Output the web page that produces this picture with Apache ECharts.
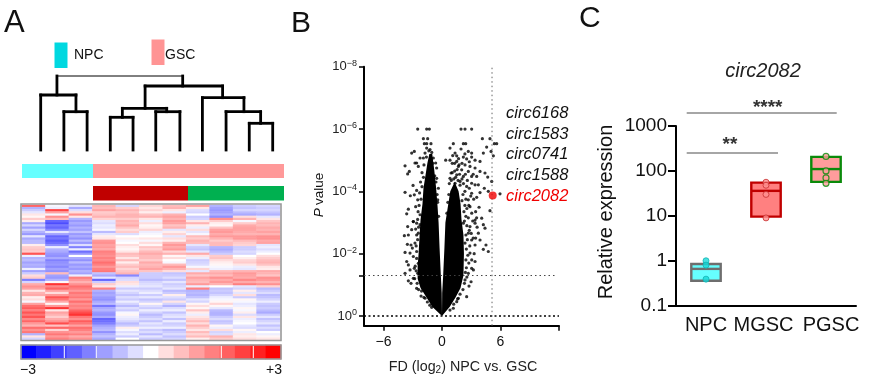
<!DOCTYPE html>
<html><head><meta charset="utf-8">
<style>html,body{margin:0;padding:0;background:#fff}#c{width:872px;height:383px;filter:blur(0.4px)}</style>
<script src="https://cdn.jsdelivr.net/npm/echarts@6/dist/echarts.min.js"></script>
</head><body><div id="c"></div>
<script>
// ---------- Panel A data ----------
const dendroThick = [[0.7,74,0.7,55],[6.12,74,6.12,64],[0,55,1.52,55],[0,55,0,0],[1.52,55,1.52,38.3],[1,38.3,2,38.3],[1,38.3,1,0],[2,38.3,2,0],
 [4.5,64,7.84,64],[4.5,64,4.5,41.7],[7.84,64,7.84,52.3],[3.52,41.7,5.43,41.7],[3.52,41.7,3.52,32.7],[3,32.7,3.98,32.7],[3,32.7,3,0],[3.98,32.7,3.98,0],
 [5.43,41.7,5.43,38.3],[4.96,38.3,6,38.3],[4.96,38.3,4.96,0],[6,38.3,6,0],[6.97,52.3,8.76,52.3],[6.97,52.3,6.97,0],[8.76,52.3,8.76,38.3],
 [7.99,38.3,9.48,38.3],[7.99,38.3,7.99,0],[9.48,38.3,9.48,26.7],[8.99,26.7,10,26.7],[8.99,26.7,8.99,0],[10,26.7,10,0]];
const dendroThin = [[0.7,74,6.12,74]];
const heatRows = [
[1.8,-0.1,-0.3,0.9,-0.5,0.5,0.8,1.1,-0.9,-0.6,-0.5],
[-0.9,-0.2,-1.0,0.8,0.6,0.3,0.9,0.3,-1.1,-0.7,-0.6],
[-0.6,2.2,-0.4,1.1,0.9,0.5,0.3,-0.4,-1.2,-0.5,-0.5],
[-0.3,1.1,0.4,0.6,0.7,0.2,-0.2,-0.5,-1.1,-0.8,-0.7],
[0.3,-0.1,1.3,0.7,0.9,0.7,0.9,0.0,-0.9,-1.0,-0.9],
[0.1,1.3,0.3,0.9,0.9,0.9,1.1,-0.6,-1.3,0.4,-0.3],
[0.6,0.8,-0.9,0.5,0.6,0.3,0.9,-0.5,1.3,0.9,0.3],
[0.2,-1.8,-1.2,-0.3,0.9,-0.2,1.2,0.3,0.6,-0.1,0.7],
[-1.0,-2.1,-1.0,-0.4,0.8,0.4,1.1,0.9,0.2,0.6,0.9],
[-0.5,-1.6,-1.2,-0.2,1.0,0.1,0.7,0.2,0.1,1.0,0.8],
[-1.1,-1.8,-0.9,-0.3,0.7,0.2,0.9,-0.2,0.7,1.1,1.0],
[-0.5,-1.4,-1.1,-0.1,0.4,0.5,-0.3,0.4,1.1,1.1,0.9],
[-0.9,-0.3,-0.7,-0.8,0.6,-0.2,0.2,-0.3,1.2,1.0,1.1],
[-1.2,-1.1,-1.2,-0.3,-0.4,-0.1,0.5,-0.1,1.0,0.9,0.9],
[-0.3,-1.8,-1.0,0.2,0.0,0.0,-0.3,0.8,1.2,1.2,1.3],
[-1.0,-1.6,-1.3,0.3,0.2,0.3,0.4,0.6,0.9,1.2,1.3],
[-0.8,-1.9,-0.8,1.2,-0.1,-0.1,0.2,0.9,0.6,0.8,1.0],
[-0.8,-1.7,-1.2,1.3,0.0,0.4,0.9,0.8,0.8,0.6,1.1],
[0.2,-1.3,-0.4,1.1,0.4,0.1,1.2,-0.3,0.8,0.5,-0.3],
[0.6,-0.2,-1.5,1.2,0.2,0.7,1.0,-0.6,-0.9,-0.6,-0.2],
[0.7,-0.9,-0.2,1.0,0.1,0.5,1.2,-0.7,-1.0,-0.6,-0.4],
[0.6,-1.0,-1.7,1.5,0.3,0.8,0.5,-0.3,-0.8,-0.4,-0.2],
[2.0,-1.2,-1.2,1.4,0.8,1.0,0.9,1.0,-0.6,-0.5,0.0],
[-0.2,-1.3,0.0,1.3,0.7,0.8,0.1,0.3,0.6,0.0,0.4],
[-0.9,-1.0,-1.0,1.5,0.3,0.8,0.4,-0.2,0.7,0.2,0.6],
[-0.8,-1.5,-1.3,1.4,0.8,0.6,0.0,-0.6,0.4,0.5,0.8],
[-1.1,-1.3,-0.8,1.7,0.2,1.0,-0.1,-0.5,0.2,0.6,0.9],
[-0.9,-1.2,-1.2,1.5,0.6,0.8,0.8,-0.4,0.1,0.3,0.7],
[-1.0,-1.4,-1.0,1.2,0.8,0.9,1.2,-0.1,-0.1,-0.2,0.3],
[-0.2,-1.1,-1.2,1.5,0.5,1.1,0.9,0.5,-0.2,-0.3,0.2],
[-1.1,-1.3,-0.9,1.6,0.7,0.7,0.4,-0.3,0.8,0.9,1.0],
[-0.6,0.8,-1.1,-0.7,0.9,-0.6,-0.7,1.0,1.0,1.2,0.9],
[0.4,-1.1,-0.2,-1.0,-1.4,-0.6,-0.6,0.7,0.8,1.1,0.7],
[0.6,-1.2,1.5,-0.3,-0.5,-0.6,-0.4,1.1,1.3,1.0,1.3],
[-1.5,-0.9,1.2,-1.8,-0.4,-0.8,-0.7,0.9,1.0,1.4,1.2],
[-0.5,0.1,0.9,-0.6,0.4,-0.5,-0.3,0.8,1.2,1.0,0.9],
[1.0,2.4,1.3,0.6,0.3,-0.4,-0.6,1.2,0.9,1.5,1.3],
[1.3,1.4,1.7,0.3,-0.2,-0.3,-0.5,-0.2,0.0,-0.3,0.5],
[1.1,1.8,1.5,1.5,-0.6,-0.6,-0.3,1.5,-0.7,-0.5,-0.8],
[0.3,1.1,1.2,-0.9,-0.3,-0.4,-0.8,-0.9,-0.6,0.2,-0.6],
[0.9,0.4,1.6,-1.1,-0.5,-0.2,-0.6,-0.8,-0.7,-0.3,-0.4],
[1.0,1.2,1.4,-1.0,-0.7,-0.6,0.2,-0.9,-0.5,0.4,-0.8],
[0.2,2.0,1.6,-1.2,-0.4,-0.3,-0.4,-0.7,-0.2,-0.6,-0.7],
[0.4,1.6,1.2,-1.3,-0.6,-0.7,-0.6,-0.3,-0.1,0.1,-0.5],
[-0.1,1.0,1.7,-1.0,-0.2,-0.5,0.3,-0.5,0.1,-0.1,-0.2],
[1.1,0.1,1.3,-0.8,-0.5,0.1,-0.5,0.1,0.5,-0.3,-0.6],
[1.7,1.2,1.5,-1.6,-0.8,-0.4,-0.9,0.4,0.1,-0.2,-0.7],
[1.9,2.4,1.4,-1.0,-0.4,-0.6,-0.4,0.1,-0.3,0.1,-0.6],
[1.5,0.3,1.8,-0.9,-0.6,-0.2,-0.2,0.7,-0.8,-0.1,-0.8],
[2.0,1.1,2.1,-1.2,-0.1,-0.5,-0.7,0.2,-0.9,0.2,-1.0],
[1.6,0.9,2.4,-1.3,0.1,-0.8,-0.4,-0.2,-0.9,-0.4,-0.6],
[2.0,0.6,1.6,-1.0,-0.2,-0.6,-0.3,0.3,-0.6,0.3,-0.3],
[1.4,1.0,1.3,-1.8,-0.3,-0.4,-0.7,0.5,-0.4,-0.2,-0.7],
[1.8,1.3,1.9,-1.7,-0.5,-0.7,-0.2,0.8,-0.7,-0.1,-0.5],
[1.2,2.1,1.6,-1.5,-0.8,-0.3,-0.6,0.4,-0.6,0.0,-0.3],
[0.9,0.7,1.1,-1.1,-0.6,-0.5,-0.5,0.9,0.1,-0.3,-0.7],
[1.7,1.8,1.7,-0.9,0.2,-0.2,-0.2,0.6,-0.2,-0.4,-0.4],
[1.3,0.5,1.5,-0.8,-0.1,-0.6,-0.8,0.3,0.4,0.1,-0.6],
[1.6,1.3,1.2,-1.3,-0.4,-0.4,-0.6,0.8,-0.5,-0.2,0.0],
[-0.9,1.6,1.5,-0.9,-0.2,-0.8,-0.4,0.5,-0.4,0.3,-0.2],
[0.3,1.2,1.0,-0.7,-0.6,-0.3,-0.7,0.8,0.9,0.2,0.1],
[-0.5,1.5,1.3,-1.0,0.0,-0.6,-0.5,0.2,0.6,0.4,0.3]];
const colorbarValues = [-3,-2.625,-2.25,-1.875,-1.5,-1.125,-0.75,-0.375,0,0.375,0.75,1.125,1.5,1.875,2.25,2.625,3];

// ---------- Panel B data (x = log2 FD, y = -log10 P) ----------
const volcanoLeftMass = [[0,0],[-1,0.3],[-1.6,0.6],[-2.2,0.9],[-2.5,1.2],[-2.5,1.6],[-2.4,2],[-2.3,2.6],[-2.2,3.1],[-2,3.6],[-1.9,4.1],[-1.7,4.5],[-1.5,4.9],[-1.3,5.2],[-1,5.2],[-0.8,4.7],[-0.6,4.1],[-0.45,3.5],[-0.35,3],[-0.25,2.2],[-0.12,1.3],[-0.03,0.74]];
const volcanoRightMass = [[0,0],[0.8,0.3],[1.4,0.6],[1.9,0.9],[2.2,1.3],[2.25,2],[2.2,2.6],[2,3.1],[1.9,3.6],[1.7,4],[1.3,4.3],[0.85,4],[0.55,3.4],[0.35,3],[0.25,2.2],[0.12,1.3],[0.02,0.74]];
const volcanoPoints = [[-2.49,6],[-1.57,6],[-1.3,6],[-1.91,5.69],[-1.47,5.69],[-1.81,5.53],[-1.57,5.53],[-1.13,5.53],[-1.57,5.39],[-3.11,5.23],[-2.84,5.28],[-1.23,5.34],[-1.74,5.23],[-2.6,4.91],[-2.25,5.07],[-2.77,4.91],[-3.79,4.82],[-3.35,4.64],[-3.52,4.56],[-2.43,4.8],[-1.91,5.07],[-0.89,5.07],[-0.65,4.91],[-0.55,4.75],[-0.55,4.42],[-2.97,4.19],[-2.6,4.03],[-3.79,3.97],[-3.25,3.86],[-2.84,3.89],[-2.49,3.73],[-3.45,3.43],[-3.62,3.28],[-2.7,3.51],[-2.94,3.03],[-0.37,4.1],[-0.44,3.73],
[1.95,6],[2.36,6],[3.04,6],[4.14,5.69],[4.92,5.69],[1.16,5.53],[2.19,5.53],[2.43,5.53],[5.37,5.53],[5.61,5.53],[0.82,5.39],[1.95,5.36],[2.7,5.28],[3.04,5.23],[1.34,5.23],[1.51,5.14],[4.58,5.42],[4.24,5.23],[5.03,5.28],[5.27,5.14],[0.38,5],[0.82,5],[1.51,4.96],[2.19,5.1],[2.53,5.04],[3.04,5.1],[3.39,5],[3.9,4.96],[1.68,4.8],[2.36,4.85],[2.87,4.8],[3.39,4.75],[3.9,4.64],[4.41,4.59],[2.02,4.69],[2.7,4.64],[0.93,4.59],[0.82,4.42],[1.51,4.53],[2.19,4.48],[3.04,4.48],[3.56,4.48],[4.69,4.46],[5.1,4.32],[3.73,4.21],[4.34,4.1],[3.39,4.21],[3.04,4.26],[1.34,4.26],[1.85,4.32],[2.53,4.16],[3.9,3.96],[4.75,4],[5.95,3.92],[3.56,3.81],[3.04,3.94],[4.92,3.38],[3.8,3.49],[3.45,3.35],[4.07,3.14],[3.39,3.08],[2.87,3.51],[2.7,3.73],
[-3.52,2.87],[-2.94,3.03],[-2.6,2.98],[-2.25,2.93],[-3.11,2.77],[-3.86,2.58],[-3.45,2.6],[-2.7,2.79],[-2.43,2.66],[-3.55,2.3],[-3.18,2.28],[-2.77,2.34],[-3.79,2.04],[-3.28,2.02],[-3.04,2.18],[-2.6,2.07],[-3.62,1.75],[-3.45,1.64],[-2.94,1.91],[-3.79,1.37],[-3.28,1.48],[-2.84,1.53],[-2.43,1.69],[-3.45,1.13],[-2.94,1.21],[-3.18,1.05],[-2.6,0.89],[-2.15,0.64],[-1.74,0.57],[-2.49,1.37],[-2.08,1.16],[-1.06,0.28],
[2.19,2.98],[2.87,2.87],[3.39,2.98],[4.24,2.93],[4.41,2.82],[3.73,2.66],[2.7,2.66],[3.04,2.44],[3.39,2.28],[3.9,2.44],[4.51,2.28],[4.24,2.14],[4.75,2.07],[2.36,2.34],[2.87,2.02],[3.39,1.75],[3.04,1.53],[2.7,1.37],[3.22,1.48],[2.36,1.16],[2.98,1.1],[2.77,0.96],[2.53,0.62],[1.68,0.57],[1.51,0.46],[1.16,0.25],[0.82,0.19],[1.85,1.27]];
const volcanoDensePoints = [[-1.6,5.1],[-1.35,5.3],[-1.05,5.25],[-1.85,4.85],[-2.05,4.6],[-1.9,4.45],[-2.2,4.3],[-2.05,4.15],[-2.3,3.95],[-2.15,3.75],[-2.35,3.55],[-2.45,3.35],[-2.25,3.25],[-2.5,3.1],[-2.4,2.85],[-2.6,2.6],[-2.5,2.45],[-2.65,2.25],[-2.6,1.85],[-2.75,1.6],[-2.65,1.45],[-2.8,1.2],[-2.55,1.05],[-2.4,0.85],[-2.1,0.8],[-1.85,0.6],[-1.5,0.45],[-1.25,0.35],[-0.75,4.5],[-0.62,4.3],[-0.5,3.9],[-0.45,3.65],[-0.35,3.2],[-1.15,5],[-0.95,4.9],[-1.3,4.75],
[0.95,4.35],[1.2,4.4],[1.4,4.45],[1.65,4.35],[1.85,4.2],[1.05,4.6],[1.3,4.65],[1.55,4.7],[1.8,4.55],[2.05,4.4],[2.2,4.25],[2.35,4],[2.15,3.9],[2.45,3.75],[2.05,3.7],[2.35,3.55],[2.55,3.45],[2.25,3.35],[2.45,3.2],[2.7,3.15],[2.3,3.05],[2.55,2.9],[2.8,2.75],[2.45,2.6],[2.6,2.45],[2.85,2.25],[2.5,2.15],[2.65,1.95],[2.45,1.8],[2.75,1.7],[2.5,1.55],[2.4,1.4],[2.55,1.25],[2.3,1.05],[2.15,0.85],[1.85,0.7],[1.6,0.55],[1.2,0.38],[0.75,4.25],[0.7,3.9],[0.6,3.65],[0.5,3.3],[1.05,4.9],[1.3,4.9],[1.75,4.85],[2.05,4.9],[2.4,4.55],[2.6,4.35],[2.8,4.1],[2.95,3.85],[2.75,3.55],[3.05,3.3],[3.15,3.05],[3,2.65],[3.2,2.5],[3.3,2],[3.05,1.8],[1.1,5.15],[1.7,5.05],[2.35,5.2],[2.8,4.95],[3.2,4.55],[3.25,3.75],[3.55,3.15],[3.6,2.85],[3.45,2.5]];
const highlightedCirc = [[5.2,3.87]];
const circNames = ["circ6168","circ1583","circ0741","circ1588"];
const highlightedName = "circ2082";
const pThreshold = 1.3, fdThreshold = 5.13;
const pTicks = [0,1.3,2,4,6,8], pLabelTicks = [0,2,4,6,8];
const fdTicks = [-6,0,6,12], fdLabelTicks = [-6,0,6];

// ---------- Panel C data ----------
const groups = ["NPC","MGSC","PGSC"];
const boxLow = [0.36,9.6,57];
const boxMedian = [0.66,36,110];
const boxHigh = [0.85,55,205];
const pointsNPC = [1.0,0.8,0.39];
const pointsMGSC = [56,48,30,9];
const pointsPGSC = [210,100,70,53];

const FONT = '"Liberation Sans", Arial, sans-serif';
const boxFill = ['#66ffff','#ff8080','#ff9c9c'];
const boxStroke = ['#6e6e6e','#c00000','#0a8a0a'];

function segRender(w){
  return function(p, api){
    const a = api.coord([api.value(0),api.value(1)]), b = api.coord([api.value(2),api.value(3)]);
    return {type:'line',shape:{x1:a[0],y1:a[1],x2:b[0],y2:b[1]},style:{stroke:'#000',lineWidth:w,lineCap:'square'}};
  };
}
function massRender(points){
  return function(p, api){
    if (p.dataIndex !== 0) return null;
    return {type:'polygon',shape:{points:points.map(q=>api.coord(q))},style:{fill:'#000'}};
  };
}
function sup(v){ return '{b|10}{s|'+(v===0?'0':'\u2212'+v)+'}'; }
function T(x,y,text,o){ return {type:'text',x:x,y:y,z:50,style:Object.assign({text:text,fill:'#111',font:'13px '+FONT,verticalAlign:'middle'},o||{})}; }
function R(x,y,w,h,fill){ return {type:'rect',z:5,shape:{x:x,y:y,width:w,height:h},style:{fill:fill}}; }
function L(x1,y1,x2,y2,c,w){ return {type:'line',z:6,shape:{x1,y1,x2,y2},style:{stroke:c,lineWidth:w}}; }

const heatData = [];
heatRows.forEach((r,i)=>r.forEach((v,j)=>heatData.push([j,i,v])));

const chart = echarts.init(document.getElementById('c'),null,{renderer:'canvas'});
const axisLbl = {fontFamily:FONT,color:'#111'};
chart.setOption({
  animation:false,
  backgroundColor:'#fff',
  grid:[
    {left:40.7,top:75,width:232,height:75},
    {left:22,top:205,width:258,height:135},
    {left:21,top:345,width:260,height:14},
    {left:364,top:66.7,width:195,height:259},
    {left:676,top:126,width:180,height:179.7}
  ],
  xAxis:[
    {gridIndex:0,type:'value',min:0,max:10,show:false},
    {gridIndex:1,type:'category',data:heatRows[0].map((_,i)=>i),show:false},
    {gridIndex:2,type:'category',data:colorbarValues.map(String),show:false},
    {gridIndex:3,type:'value',min:-8,max:12,splitLine:{show:false},
      axisLine:{show:true,onZero:false,lineStyle:{color:'#000',width:2}},
      axisTick:{show:true,length:5,customValues:fdTicks,lineStyle:{color:'#000',width:1.5}},
      axisLabel:Object.assign({},axisLbl,{fontSize:14,margin:9,customValues:fdLabelTicks,formatter:v=>String(v).replace('-','\u2212')})},
    {gridIndex:4,type:'category',data:groups,
      axisLine:{lineStyle:{color:'#000',width:2}},
      axisTick:{alignWithLabel:true,length:6,lineStyle:{color:'#000',width:2}},
      axisLabel:Object.assign({},axisLbl,{fontSize:20,margin:10,interval:0,
        formatter:v=>v==='MGSC'?'{m|'+v+'}':v==='PGSC'?'{p|'+v+'}':'{n|'+v+'}',
        rich:{n:{fontSize:20,fontFamily:FONT,color:'#111'},m:{fontSize:20,fontFamily:FONT,color:'#111',padding:[0,5,0,0]},p:{fontSize:20,fontFamily:FONT,color:'#111',padding:[0,0,0,10]}}})}
  ],
  yAxis:[
    {gridIndex:0,type:'value',min:0,max:75,show:false},
    {gridIndex:1,type:'category',inverse:true,data:heatRows.map((_,i)=>i),show:false},
    {gridIndex:2,type:'category',data:['bar'],show:false},
    {gridIndex:3,type:'value',min:-0.31,max:8,splitLine:{show:false},
      axisLine:{show:true,onZero:false,lineStyle:{color:'#000',width:2}},
      axisTick:{show:true,length:5,customValues:pTicks,lineStyle:{color:'#000',width:1.5}},
      axisLabel:Object.assign({},axisLbl,{customValues:pLabelTicks,margin:7,formatter:sup,
        rich:{b:{fontSize:13,fontFamily:FONT,color:'#222'},s:{fontSize:9,fontFamily:FONT,color:'#222',padding:[0,0,7,0]}}})},
    {gridIndex:4,type:'log',logBase:10,min:0.1,max:1000,splitLine:{show:false},
      axisLine:{show:true,lineStyle:{color:'#000',width:2}},
      axisTick:{show:true,length:8,lineStyle:{color:'#000',width:2}},
      minorTick:{show:false},
      axisLabel:Object.assign({},axisLbl,{fontSize:19,margin:9,formatter:v=>String(v)})}
  ],
  visualMap:{show:false,type:'continuous',min:-3,max:3,seriesIndex:[2,3],inRange:{color:['#0000ff','#ffffff','#ff0000']}},
  series:[
    {type:'custom',xAxisIndex:0,yAxisIndex:0,coordinateSystem:'cartesian2d',clip:false,renderItem:segRender(2.8),data:dendroThick,encode:{x:[0,2],y:[1,3]},silent:true},
    {type:'custom',xAxisIndex:0,yAxisIndex:0,coordinateSystem:'cartesian2d',clip:false,renderItem:segRender(1),data:dendroThin,encode:{x:[0,2],y:[1,3]},silent:true},
    {type:'heatmap',xAxisIndex:1,yAxisIndex:1,data:heatData,progressive:0,silent:true},
    {type:'heatmap',xAxisIndex:2,yAxisIndex:2,data:colorbarValues.map((v,i)=>[i,0,v]),silent:true},
    {type:'custom',xAxisIndex:3,yAxisIndex:3,coordinateSystem:'cartesian2d',renderItem:massRender(volcanoLeftMass),data:volcanoLeftMass,silent:true},
    {type:'custom',xAxisIndex:3,yAxisIndex:3,coordinateSystem:'cartesian2d',renderItem:massRender(volcanoRightMass),data:volcanoRightMass,silent:true},
    {type:'scatter',xAxisIndex:3,yAxisIndex:3,data:volcanoPoints,symbolSize:3.2,itemStyle:{color:'#000'},silent:true},
    {type:'scatter',xAxisIndex:3,yAxisIndex:3,data:volcanoDensePoints,symbolSize:3.2,itemStyle:{color:'#000'},silent:true},
    {type:'line',xAxisIndex:3,yAxisIndex:3,data:[[-8,pThreshold],[11.7,pThreshold]],symbol:'none',lineStyle:{color:'#444',width:1,type:[1.5,3]},silent:true},
    {type:'line',xAxisIndex:3,yAxisIndex:3,data:[[-8,0],[12,0]],symbol:'none',lineStyle:{color:'#000',width:1.6,type:[2,2.5]},silent:true},
    {type:'line',xAxisIndex:3,yAxisIndex:3,data:[[fdThreshold,-0.31],[fdThreshold,8]],symbol:'none',lineStyle:{color:'#666',width:1,type:[1.5,3]},silent:true},
    {type:'scatter',xAxisIndex:3,yAxisIndex:3,data:highlightedCirc,symbolSize:8,itemStyle:{color:'#f00000'},z:5,silent:true},
    {type:'custom',xAxisIndex:4,yAxisIndex:4,coordinateSystem:'cartesian2d',silent:true,
      data:groups.map((g,i)=>[i,boxLow[i],boxMedian[i],boxHigh[i]]),encode:{x:0,y:[1,2,3]},
      renderItem:function(p,api){
        const i=api.value(0), hw=api.size([1,0])[0]*0.245;
        const lo=api.coord([i,api.value(1)]), me=api.coord([i,api.value(2)]), hi=api.coord([i,api.value(3)]);
        const s={stroke:boxStroke[i],lineWidth:2.4};
        return {type:'group',children:[
          {type:'rect',shape:{x:lo[0]-hw,y:hi[1],width:2*hw,height:lo[1]-hi[1]},style:Object.assign({fill:boxFill[i]},s)},
          {type:'line',shape:{x1:lo[0]-hw,y1:me[1],x2:lo[0]+hw,y2:me[1]},style:s}
        ]};
      }},
    {type:'scatter',xAxisIndex:4,yAxisIndex:4,z:4,symbolSize:6,silent:true,data:pointsNPC.map(v=>[groups[0],v]),itemStyle:{color:'#19d8d8',borderColor:'#12b4b4',borderWidth:1}},
    {type:'scatter',xAxisIndex:4,yAxisIndex:4,z:4,symbolSize:6,silent:true,data:pointsMGSC.map(v=>[groups[1],v]),itemStyle:{color:'#ff9090',borderColor:'#c83030',borderWidth:1}},
    {type:'scatter',xAxisIndex:4,yAxisIndex:4,z:4,symbolSize:6,silent:true,data:pointsPGSC.map(v=>[groups[2],v]),itemStyle:{color:'#ff9c9c',borderColor:'#0a8a0a',borderWidth:1.2}}
  ],
  graphic:[
    T(4,23,'A',{font:'31px '+FONT}), T(291,24,'B',{font:'30px '+FONT}), T(579,19,'C',{font:'30px '+FONT}),
    R(54.5,42.5,13,25.5,'#00d8e0'), R(151.5,39.5,13,25.5,'#ff9494'),
    T(74,55,'NPC',{font:'14px '+FONT}), T(165,55,'GSC',{font:'14px '+FONT}),
    R(22,164,71,14,'#66ffff'), R(93,164,191,14,'#ff9999'),
    R(93,186,95,14.5,'#c00000'), R(188,186,96,14.5,'#00b050'),
    {type:'rect',z:40,shape:{x:21,y:204,width:260,height:136.5},style:{fill:'none',stroke:'#999',lineWidth:1.6}},
    {type:'rect',z:40,shape:{x:21,y:345,width:260,height:14},style:{fill:'none',stroke:'#999',lineWidth:1.6}},
    {type:'line',z:39,shape:{x1:64.3,y1:346,x2:64.3,y2:358},style:{stroke:'#fff',lineWidth:1}},
    {type:'line',z:39,shape:{x1:96.3,y1:346,x2:96.3,y2:358},style:{stroke:'#fff',lineWidth:1}},
    {type:'line',z:39,shape:{x1:221.3,y1:346,x2:221.3,y2:358},style:{stroke:'#fff',lineWidth:1}},
    {type:'line',z:39,shape:{x1:253.3,y1:346,x2:253.3,y2:358},style:{stroke:'#fff',lineWidth:1}},
    T(20,370,'\u22123',{font:'14px '+FONT}), T(282,370,'+3',{font:'14px '+FONT,align:'right'}),
    T(506,113,circNames[0],{font:'italic 16.5px '+FONT}), T(506,134,circNames[1],{font:'italic 16.5px '+FONT}),
    T(506,154,circNames[2],{font:'italic 16.5px '+FONT}), T(506,175,circNames[3],{font:'italic 16.5px '+FONT}),
    T(506,196,highlightedName,{font:'italic 16.5px '+FONT,fill:'#f00000'}),
    {type:'text',x:319,y:195,rotation:Math.PI/2,z:50,style:{text:'{i|P} {n|value}',align:'center',verticalAlign:'middle',rich:{i:{font:'italic 13.5px '+FONT,fill:'#111'},n:{font:'13.5px '+FONT,fill:'#111'}}}},
    {type:'text',x:463,y:367,z:50,style:{text:'{n|FD (log}{d|2}{n|) NPC vs. GSC}',align:'center',verticalAlign:'middle',rich:{n:{font:'14.3px '+FONT,fill:'#222'},d:{font:'10px '+FONT,fill:'#222',padding:[6,0,0,0]}}}},
    T(763,71,'circ2082',{font:'italic 20px '+FONT,align:'center',fill:'#222'}),
    L(686.7,113,836.7,113,'#888',1.4), L(686.7,153,778,153,'#888',1.4),
    T(767.7,108,'****',{font:'bold 19px '+FONT,align:'center',fill:'#333'}),
    T(730,145,'**',{font:'bold 19px '+FONT,align:'center',fill:'#333'}),
    {type:'text',x:606,y:212,rotation:Math.PI/2,z:50,style:{text:'Relative expression',align:'center',verticalAlign:'middle',font:'20px '+FONT,fill:'#111'}}
  ]
});
</script></body></html>
